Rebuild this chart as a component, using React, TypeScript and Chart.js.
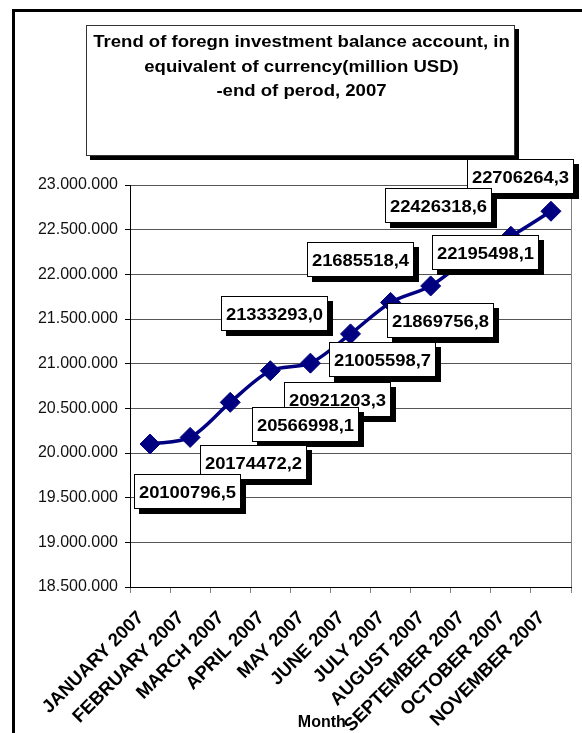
import { useEffect, useRef } from 'react';
import { Chart, registerables } from 'chart.js';

Chart.register(...registerables);

const months = [
  'JANUARY 2007', 'FEBRUARY 2007', 'MARCH 2007', 'APRIL 2007', 'MAY 2007', 'JUNE 2007',
  'JULY 2007', 'AUGUST 2007', 'SEPTEMBER 2007', 'OCTOBER 2007', 'NOVEMBER 2007',
];
const balances = [
  20100796.5, 20174472.2, 20566998.1, 20921203.3, 21005598.7, 21333293.0,
  21685518.4, 21869756.8, 22195498.1, 22426318.6, 22706264.3,
];
const valueLabels = [
  '20100796,5', '20174472,2', '20566998,1', '20921203,3', '21005598,7', '21333293,0',
  '21685518,4', '21869756,8', '22195498,1', '22426318,6', '22706264,3',
];
const titleLines = [
  'Trend of foregn investment balance account, in',
  'equivalent of currency(million USD)',
  '-end of perod, 2007',
];
const axisTitle = 'Month';
const yMin = 18500000;
const yMax = 23000000;
const yStep = 500000;
// data-label box centre offsets from their point, in px
const labelOffsets: [number, number][] = [
  [37, 48], [63, 25], [75, 22], [67.5, 29], [72, -4], [-76, -20],
  [-30, -43], [10, 34.5], [15, -4.5], [-72, -31], [-30, -35],
];

const FONT = '"Liberation Sans", Arial, sans-serif';

const fmt = (v: number) => Math.round(v).toString().replace(/\B(?=(\d{3})+(?!\d))/g, '.');

function stretchedText(ctx: CanvasRenderingContext2D, text: string, cx: number, y: number, sx: number) {
  ctx.save();
  ctx.translate(cx, y);
  ctx.scale(sx, 1);
  ctx.textAlign = 'center';
  ctx.textBaseline = 'alphabetic';
  ctx.fillText(text, 0, 0);
  ctx.restore();
}

const decor = {
  id: 'decor',
  beforeDraw(chart: any) {
    const ctx: CanvasRenderingContext2D = chart.ctx;
    ctx.save();
    ctx.fillStyle = '#fff';
    ctx.fillRect(0, 0, chart.width, chart.height);
    // outer frame
    ctx.fillStyle = '#000';
    ctx.fillRect(12, 9, chart.width - 12, 3);
    ctx.fillRect(12, 9, 3, chart.height - 9);
    // title box
    const bx = 86, by = 25, bw = 429, bh = 131;
    ctx.fillRect(bx + 4, by + 4, bw, bh);
    ctx.fillStyle = '#fff';
    ctx.fillRect(bx, by, bw, bh);
    ctx.strokeStyle = '#333';
    ctx.lineWidth = 1;
    ctx.strokeRect(bx + 0.5, by + 0.5, bw - 1, bh - 1);
    ctx.fillStyle = '#000';
    ctx.font = `bold 16px ${FONT}`;
    titleLines.forEach((t, i) => stretchedText(ctx, t, bx + bw / 2 + 1, 47 + i * 24.5, 1.16));
    ctx.restore();
  },
  beforeDatasetsDraw(chart: any) {
    const ctx: CanvasRenderingContext2D = chart.ctx;
    const a = chart.chartArea;
    ctx.save();
    ctx.strokeStyle = '#808080';
    ctx.lineWidth = 1;
    ctx.beginPath();
    ctx.moveTo(Math.round(a.right) + 0.5, a.top);
    ctx.lineTo(Math.round(a.right) + 0.5, a.bottom);
    ctx.stroke();
    ctx.restore();
  },
  afterDatasetsDraw(chart: any) {
    const ctx: CanvasRenderingContext2D = chart.ctx;
    const meta = chart.getDatasetMeta(0);
    ctx.save();
    ctx.font = `bold 16px ${FONT}`;
    const w = 107, h = 35;
    for (let i = meta.data.length - 1; i >= 0; i--) {
      const p = meta.data[i];
      const cx = p.x + labelOffsets[i][0];
      const cy = p.y + labelOffsets[i][1];
      const l = Math.round(cx - w / 2), t = Math.round(cy - h / 2);
      ctx.fillStyle = '#000';
      ctx.fillRect(l + 5, t + 5, w, h);
      ctx.fillStyle = '#fff';
      ctx.fillRect(l, t, w, h);
      ctx.strokeStyle = '#000';
      ctx.lineWidth = 1;
      ctx.strokeRect(l + 0.5, t + 0.5, w - 1, h - 1);
      ctx.fillStyle = '#000';
      stretchedText(ctx, valueLabels[i], l + w / 2, t + h / 2 + 6, 1.15);
    }
    ctx.restore();
  },
  afterDraw(chart: any) {
    const ctx: CanvasRenderingContext2D = chart.ctx;
    const a = chart.chartArea;
    ctx.save();
    ctx.fillStyle = '#000';
    ctx.font = `bold 16px ${FONT}`;
    ctx.textAlign = 'center';
    ctx.textBaseline = 'alphabetic';
    ctx.fillText(axisTitle, a.left + (a.right - a.left) * 0.435, chart.height - 6);
    ctx.restore();
  },
};

export default function App() {
  const ref = useRef<HTMLCanvasElement>(null);
  useEffect(() => {
    if (!ref.current) return;
    const chart = new Chart(ref.current, {
      type: 'line',
      data: {
        labels: months,
        datasets: [
          {
            data: balances,
            borderColor: '#000080',
            backgroundColor: '#000080',
            borderWidth: 3.5,
            tension: 0.3,
            pointStyle: 'rectRot',
            pointRadius: 10,
            pointBorderWidth: 1,
            pointBackgroundColor: '#000080',
            pointBorderColor: '#000080',
          },
        ],
      },
      options: {
        responsive: false,
        animation: false,
        devicePixelRatio: 1,
        layout: { padding: { top: 185, right: 6, left: 0, bottom: 0 } },
        plugins: { legend: { display: false }, tooltip: { enabled: false }, title: { display: false } },
        scales: {
          x: {
            type: 'category',
            offset: true,
            grid: {
              offset: true,
              drawOnChartArea: false,
              drawTicks: true,
              tickLength: 6,
              color: '#808080',
            },
            border: { color: '#000', width: 1 },
            ticks: {
              autoSkip: false,
              minRotation: 45,
              maxRotation: 45,
              color: '#000',
              padding: 14,
              labelOffset: -9,
              font: { family: FONT, size: 18.5, weight: 'bold' },
            },
            afterFit: (s: any) => {
              s.height = 146;
            },
          },
          y: {
            min: yMin,
            max: yMax,
            grid: { color: '#555', tickColor: '#000', tickLength: 5 },
            border: { color: '#000', width: 1 },
            ticks: {
              stepSize: yStep,
              color: '#111',
              padding: 7,
              font: { family: FONT, size: 16 },
              callback: (v: any) => fmt(Number(v)),
            },
            afterFit: (s: any) => {
              s.width = 130;
            },
          },
        },
      },
      plugins: [decor],
    });
    return () => chart.destroy();
  }, []);
  return (
    <div style={{ position: 'absolute', left: 0, top: 0, width: 582, height: 733 }}>
      <canvas ref={ref} width={582} height={733} style={{ display: 'block' }} />
    </div>
  );
}
